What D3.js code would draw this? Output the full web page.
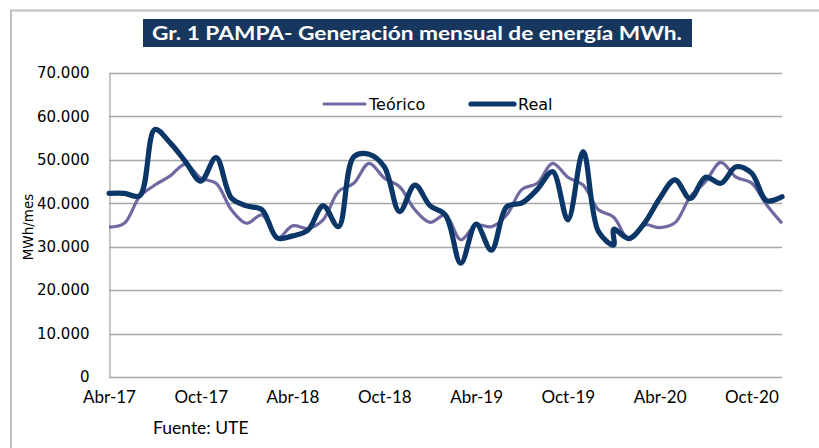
<!DOCTYPE html>
<html><head><meta charset="utf-8">
<script src="https://cdn.jsdelivr.net/npm/d3@7"></script>
<style>body{margin:0;background:#fff}</style>
</head><body>
<svg id="c" width="819" height="448"></svg>
<script>
const months = ["Abr-17","May-17","Jun-17","Jul-17","Ago-17","Sep-17","Oct-17","Nov-17","Dic-17",
"Ene-18","Feb-18","Mar-18","Abr-18","May-18","Jun-18","Jul-18","Ago-18","Sep-18","Oct-18","Nov-18","Dic-18",
"Ene-19","Feb-19","Mar-19","Abr-19","May-19","Jun-19","Jul-19","Ago-19","Sep-19","Oct-19","Nov-19","Dic-19",
"Ene-20","Feb-20","Mar-20","Abr-20","May-20","Jun-20","Jul-20","Ago-20","Sep-20","Oct-20","Nov-20","Dic-20"];
const tickLabels = ["Abr-17","Oct-17","Abr-18","Oct-18","Abr-19","Oct-19","Abr-20","Oct-20"];
const yTicks = [0,10000,20000,30000,40000,50000,60000,70000];
const teorico = [34500,35400,41500,44200,46300,49000,45800,44600,38500,35400,37300,31900,34800,34200,36200,42700,44600,49200,45800,43800,38500,35600,37300,31600,35000,34600,37300,43200,44600,49200,46000,44200,38500,36800,31600,35000,34400,35500,41500,45000,49400,46000,44700,39600,35400];
const real = [42300,42300,41700,57000,53900,49600,45100,50500,41200,39400,38500,32000,32500,33800,39400,34600,50700,51300,48400,38100,44200,39400,37300,26200,35200,29200,39200,40100,43200,47300,36200,51900,33500,30400,31900,35400,41100,45400,41100,46000,44600,48400,47000,40600,41500];
// second reading recorded for Ene-20 (line jumps vertically there)
const realSecondReading = {month:"Ene-20", value:34000};
const seriesNames = ["Teórico","Real"];
const colors = {"Teórico":"#6e6aa1","Real":"#0b3668"};

const svg = d3.select("#c");
const x = d3.scalePoint(months, [109, 782]);
const y = d3.scaleLinear([0,70000],[377,73]);
const fmt = d3.formatLocale({decimal:",", thousands:".", grouping:[3], currency:["",""]}).format(",d");

// frame
svg.append("path").attr("d","M11,448V10.5H819").attr("fill","none").attr("stroke","#c0c0c0").attr("stroke-width",2);

// gridlines
svg.append("g").selectAll("line").data(yTicks.filter(d=>d>0)).join("line")
  .attr("x1",109).attr("x2",782).attr("y1",d=>Math.round(y(d))+0.5).attr("y2",d=>Math.round(y(d))+0.5)
  .attr("stroke","#a8a8a8").attr("stroke-width",1.3);

// y axis
const ya = svg.append("g").attr("transform","translate(109.5,0)")
  .call(d3.axisLeft(y).tickValues(yTicks).tickFormat(fmt).tickSize(0).tickPadding(20));
ya.select(".domain").attr("stroke","#a8a8a8").attr("stroke-width",1.3);
ya.selectAll("text").attr("font-family","DejaVu Sans").attr("font-size",15).attr("fill","#000");

// x axis
const xa = svg.append("g").attr("transform","translate(0,377.5)")
  .call(d3.axisBottom(x).tickValues(tickLabels).tickSize(0).tickPadding(13));
xa.select(".domain").attr("stroke","#a8a8a8").attr("stroke-width",1.3).attr("d","M109,0H782");
xa.selectAll("text").attr("font-family","Lato").attr("font-size",17).attr("fill","#000");

// lines
const line = d3.line().x(d=>x(d.m)).y(d=>y(d.v)).curve(d3.curveCatmullRom.alpha(0.5));
const teoPts = months.map((m,i)=>({m, v:teorico[i]}));
const realPts = [];
months.forEach((m,i)=>{
  realPts.push({m, v:real[i]});
  if (m===realSecondReading.month) realPts.push({m, v:realSecondReading.value});
});
svg.append("path").datum(teoPts).attr("d",line).attr("fill","none")
  .attr("stroke",colors["Teórico"]).attr("stroke-width",3.2).attr("stroke-linejoin","round");
svg.append("path").datum(realPts).attr("d",line).attr("fill","none")
  .attr("stroke",colors["Real"]).attr("stroke-width",5.2).attr("stroke-linejoin","round").attr("stroke-linecap","round");

// legend
const lg = [{n:"Teórico", x1:324, x2:365, w:3.2},{n:"Real", x1:471, x2:514, w:5.2}];
lg.forEach(l=>{
  svg.append("line").attr("x1",l.x1).attr("x2",l.x2).attr("y1",104).attr("y2",104)
    .attr("stroke",colors[l.n]).attr("stroke-width",l.w).attr("stroke-linecap","round");
  svg.append("text").attr("x",l.x2+4).attr("y",104).attr("dy","0.36em")
    .attr("font-family","DejaVu Sans").attr("font-size",16).attr("fill","#000").text(l.n);
});

// y title
svg.append("text").attr("transform","translate(28,227) rotate(-90)").attr("text-anchor","middle")
  .attr("dy","0.36em").attr("font-family","DejaVu Sans").attr("font-size",13.5).text("MWh/mes");

// title
svg.append("rect").attr("x",143).attr("y",19).attr("width",549).attr("height",28).attr("fill","#17375e");
svg.append("text").attr("x",417).attr("y",33).attr("dy","0.36em").attr("text-anchor","middle")
  .attr("font-family","Lato").attr("font-weight","bold").attr("font-size",19).attr("fill","#fff")
  .attr("textLength",530).attr("lengthAdjust","spacingAndGlyphs")
  .text("Gr. 1 PAMPA- Generación mensual de energía MWh.");

// source
svg.append("text").attr("x",153).attr("y",428).attr("dy","0.36em")
  .attr("font-family","Lato").attr("font-size",17.5).attr("fill","#000").text("Fuente: UTE");
</script>
</body></html>
